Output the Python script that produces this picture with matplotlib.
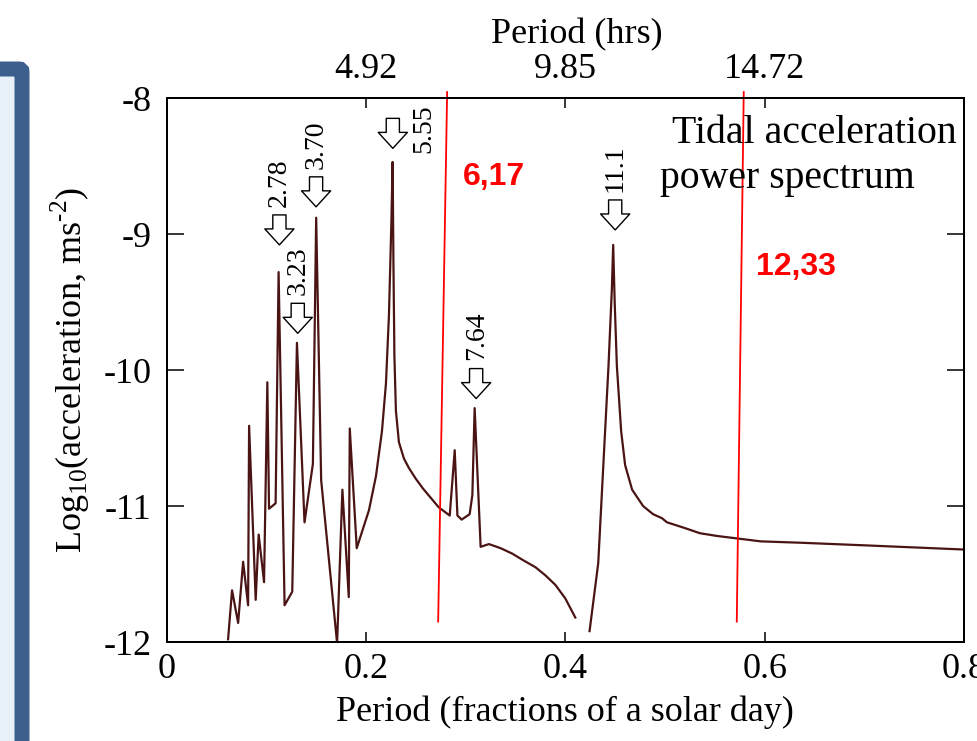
import matplotlib
matplotlib.use("Agg")
import matplotlib.pyplot as plt
import numpy as np
from matplotlib.patches import FancyBboxPatch
from matplotlib.transforms import IdentityTransform

plt.rcParams["font.family"] = ["Liberation Serif", "DejaVu Serif"]
plt.rcParams["mathtext.fontset"] = "custom"
plt.rcParams["mathtext.rm"] = "Liberation Serif"
plt.rcParams["axes.unicode_minus"] = False

# spectrum (period as fraction of a solar day, log10 acceleration)
period_a = [0.0616, 0.0656, 0.0717, 0.0767, 0.0817, 0.0827, 0.0893, 0.0923, 0.0977, 0.101,
            0.1027, 0.1093, 0.1123, 0.1183, 0.126, 0.1307, 0.1383, 0.1467, 0.150, 0.155,
            0.171, 0.1763, 0.1827, 0.1837, 0.1907, 0.203, 0.210, 0.216, 0.220, 0.223,
            0.2255, 0.2267, 0.2275, 0.2285, 0.230, 0.233, 0.238, 0.243, 0.250, 0.257,
            0.265, 0.273, 0.284, 0.289, 0.2917, 0.296, 0.304, 0.3067, 0.309, 0.315,
            0.3233, 0.335, 0.3467, 0.358, 0.370, 0.380, 0.390, 0.400, 0.410]
logacc_a = [-11.98, -11.62, -11.86, -11.41, -11.73, -10.41, -11.69, -11.21, -11.56, -10.09,
            -11.02, -10.98, -9.28, -11.73, -11.63, -9.80, -11.12, -10.69, -8.88, -10.81,
            -12.01, -10.88, -11.67, -10.43, -11.31, -11.03, -10.78, -10.45, -10.10, -9.60,
            -8.90, -8.47, -9.20, -9.90, -10.30, -10.53, -10.65, -10.72, -10.80, -10.87,
            -10.94, -11.01, -11.07, -10.59, -11.07, -11.10, -11.06, -10.92, -10.28, -11.30,
            -11.28, -11.31, -11.35, -11.40, -11.45, -11.51, -11.58, -11.68, -11.82]

period_b = [0.4243, 0.433, 0.4433, 0.4467, 0.448, 0.4495, 0.4517, 0.456, 0.460, 0.467,
            0.478, 0.488, 0.497, 0.502, 0.519, 0.535, 0.552, 0.574, 0.596, 0.636,
            0.703, 0.800]
logacc_b = [-11.92, -11.42, -9.97, -9.40, -9.08, -9.50, -9.97, -10.45, -10.70, -10.88,
            -11.00, -11.06, -11.09, -11.12, -11.16, -11.20, -11.22, -11.24, -11.26, -11.27,
            -11.29, -11.32]

# peak markers: label, arrow x, arrow tip y
peak_labels = ["2.78", "3.70", "3.23", "5.55", "7.64", "11.1"]
peak_x = [0.1131, 0.1499, 0.1315, 0.2269, 0.3105, 0.450]
peak_tip = [-9.08, -8.80, -9.73, -8.37, -10.21, -8.97]

# top axis (hours)
hrs_pos = [0.2, 0.4, 0.6]
hrs_labels = ["4.92", "9.85", "14.72"]

# red marker lines (x top, x bottom) and their notes
red_x_top = [0.2814, 0.579]
red_x_bot = [0.2724, 0.572]
red_notes = ["6,17", "12,33"]
red_note_x = [0.328, 0.631]
red_note_y = [-8.58, -9.24]

fig = plt.figure(figsize=(9.77, 7.41), dpi=100)
ax = fig.add_axes([0.1706, 0.1336, 0.8161, 0.7341])

# slide box on the left
box = FancyBboxPatch((-100, -100), 122, 772, boxstyle="round,pad=0,rounding_size=3",
                     transform=IdentityTransform(), facecolor="#e8f0f9",
                     edgecolor="#3c5f8d", linewidth=10.8, zorder=0)
fig.add_artist(box)

line_color = "#4a1414"
ax.plot(period_a, logacc_a, color=line_color, lw=1.6)
ax.plot(period_b, logacc_b, color=line_color, lw=1.6)

ax.set_xlim(0, 0.8)
ax.set_ylim(-12, -8)
ax.set_xticks([0, 0.2, 0.4, 0.6, 0.8])
ax.set_xticklabels(["0", "0.2", "0.4", "0.6", "0.8"])
ax.set_yticks([-12, -11, -10, -9, -8])
ax.tick_params(axis="x", direction="in", length=7, width=1.1, labelsize=26, pad=8, top=False)
ax.tick_params(axis="y", direction="in", length=12, width=1.1, labelsize=26, pad=11,
               left=True, right=True)
for s in ax.spines.values():
    s.set_linewidth(1.4)

ax.set_xlabel("Period (fractions of a solar day)", fontsize=26, va="center")
ax.xaxis.set_label_coords(0.5, -0.1287)
ax.set_ylabel(r"Log$_{\mathregular{10}}$(acceleration, ms$^{\text{-2}}$)",
              fontsize=26, va="center")
ax.yaxis.set_label_coords(-0.121, 0.5)

ax2 = ax.twiny()
ax2.set_xlim(ax.get_xlim())
ax2.set_xticks(hrs_pos)
ax2.set_xticklabels(hrs_labels)
ax2.tick_params(axis="x", direction="in", length=7, width=1.1, labelsize=26, pad=9)
ax2.set_xlabel("Period (hrs)", fontsize=26, va="center")
ax2.xaxis.set_label_coords(0.515, 1.1158)
for s in ax2.spines.values():
    s.set_linewidth(1.4)

# hollow arrows with rotated labels
arrow_style = "simple,head_length=1.15,head_width=2.1,tail_width=0.95"
for lab, px, py in zip(peak_labels, peak_x, peak_tip):
    ax.annotate("", xy=(px, py), xytext=(0, 21.6), textcoords="offset points",
                arrowprops=dict(arrowstyle=arrow_style, mutation_scale=10,
                                fc="white", ec="black", lw=1.0, shrinkA=0, shrinkB=0))
    if lab == "5.55":
        ax.annotate(lab, xy=(px, py), xytext=(22, 14.5), textcoords="offset points",
                    rotation=90, ha="center", va="center", fontsize=20)
    else:
        ax.annotate(lab, xy=(px, py), xytext=(0, 27.5), textcoords="offset points",
                    rotation=90, ha="center", va="bottom", fontsize=20)

ax.text(0.507, -8.331, "Tidal acceleration", fontsize=28.6, va="baseline", ha="left")
ax.text(0.495, -8.662, "power spectrum", fontsize=28.6, va="baseline", ha="left")

# red lines drawn over the figure
for xt, xb in zip(red_x_top, red_x_bot):
    ax.plot([xt, xb], [-7.956, -11.85], color="red", lw=1.3, clip_on=False)
for note, nx, ny in zip(red_notes, red_note_x, red_note_y):
    ax.text(nx, ny, note, color="red", fontsize=23, fontweight="bold",
            family="Liberation Sans", ha="center", va="center")

fig.savefig("out.png", dpi=100)
